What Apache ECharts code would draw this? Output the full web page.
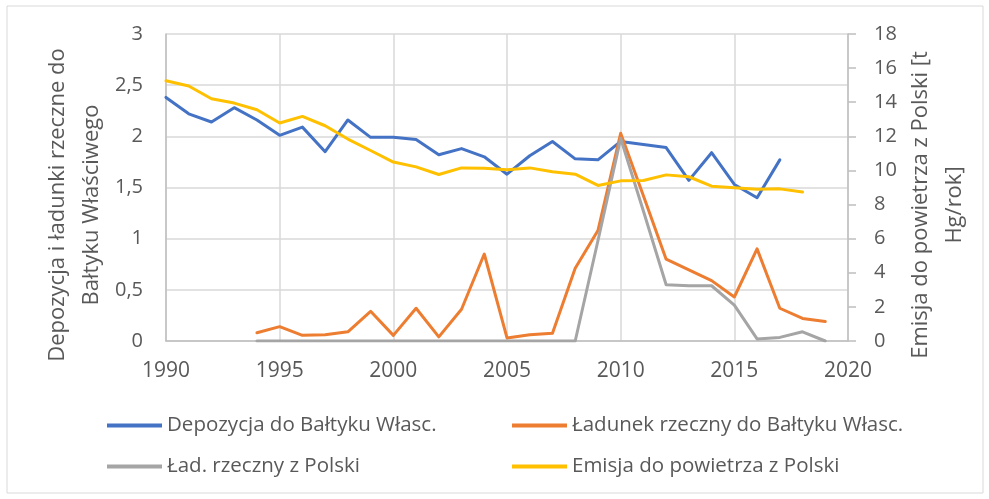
<!DOCTYPE html>
<html>
<head>
<meta charset="utf-8">
<script src="https://cdn.jsdelivr.net/npm/echarts@6/dist/echarts.min.js"></script>
<style>
  html, body { margin: 0; padding: 0; background: #fff; }
  #chart { width: 989px; height: 499px; }
</style>
</head>
<body>
<div id="chart"></div>
<script>
// years on the x axis
const years = [1990, 1991, 1992, 1993, 1994, 1995, 1996, 1997, 1998, 1999,
  2000, 2001, 2002, 2003, 2004, 2005, 2006, 2007, 2008, 2009,
  2010, 2011, 2012, 2013, 2014, 2015, 2016, 2017, 2018, 2019]

// left axis series
const depozycja = [2.38, 2.22, 2.14, 2.28, 2.16, 2.01, 2.09, 1.85, 2.16, 1.99,
  1.99, 1.97, 1.82, 1.88, 1.80, 1.63, 1.81, 1.95, 1.78, 1.77,
  1.95, 1.92, 1.89, 1.57, 1.84, 1.53, 1.40, 1.77, null, null]
const ladunekBaltyk = [null, null, null, null, 0.08, 0.14, 0.055, 0.06, 0.09, 0.29,
  0.055, 0.32, 0.04, 0.31, 0.85, 0.03, 0.06, 0.075, 0.71, 1.08,
  2.03, 1.42, 0.80, 0.695, 0.59, 0.43, 0.90, 0.32, 0.22, 0.19]
const ladunekPolska = [null, null, null, null, 0, 0, 0, 0, 0, 0,
  0, 0, 0, 0, 0, 0, 0, 0, 0, 0.98,
  1.98, 1.27, 0.55, 0.54, 0.54, 0.35, 0.02, 0.035, 0.09, 0]

// right axis series
const emisja = [15.26, 14.95, 14.2, 13.95, 13.56, 12.78, 13.17, 12.62, 11.84, 11.17,
  10.49, 10.21, 9.76, 10.15, 10.13, 10.04, 10.15, 9.92, 9.78, 9.12,
  9.39, 9.41, 9.74, 9.63, 9.08, 8.98, 8.90, 8.92, 8.73, null]

const names = ['Depozycja do Bałtyku Własc.', 'Ładunek rzeczny do Bałtyku Własc.',
  'Ład. rzeczny z Polski', 'Emisja do powietrza z Polski']
const colors = ['#4472C4', '#ED7D31', '#A5A5A5', '#FFC000']

const font = 'Open Sans'
const textColor = '#595959'

const pairs = vals => years.map((y, i) => [y, vals[i]])

const lineSeries = (idx, vals, axis) => ({
  name: names[idx],
  type: 'line',
  yAxisIndex: axis,
  data: pairs(vals),
  showSymbol: false,
  symbol: 'none',
  connectNulls: false,
  lineStyle: { width: 3, color: colors[idx], cap: 'round', join: 'round' },
  itemStyle: { color: colors[idx] },
  z: 3 + idx
})

const legendAt = (idx, left, top) => ({
  data: [names[idx]],
  left: left,
  top: top,
  padding: 0,
  icon: 'rect',
  itemWidth: 55,
  itemHeight: 4,
  textStyle: { fontFamily: font, fontSize: 20.5, color: textColor }
})

const chart = echarts.init(document.getElementById('chart'))

chart.setOption({
  animation: false,
  color: colors,
  grid: { left: 166, right: 141, top: 34, bottom: 158 },
  xAxis: {
    type: 'value',
    min: 1990,
    max: 2020,
    interval: 5,
    axisLine: { show: true, lineStyle: { color: '#bfbfbf', width: 1.5 } },
    axisTick: { show: false },
    axisLabel: {
      formatter: v => String(v),
      fontFamily: font, fontSize: 21, color: textColor, margin: 20
    },
    splitLine: { show: true, lineStyle: { color: '#d9d9d9', width: 1.5 } }
  },
  yAxis: [
    {
      type: 'value',
      min: 0, max: 3, interval: 0.5,
      axisLine: { show: true, lineStyle: { color: '#bfbfbf', width: 1.5 } },
      axisTick: { show: false },
      axisLabel: {
        formatter: v => String(v).replace('.', ','),
        fontFamily: font, fontSize: 20, color: textColor, margin: 23
      },
      splitLine: { show: true, lineStyle: { color: '#d9d9d9', width: 1.5 } }
    },
    {
      type: 'value',
      position: 'right',
      min: 0, max: 18, interval: 2,
      axisLine: { show: true, lineStyle: { color: '#bfbfbf', width: 1.5 } },
      axisTick: { show: true, length: 8, inside: false, lineStyle: { color: '#bfbfbf', width: 1.5 } },
      axisLabel: {
        fontFamily: font, fontSize: 20, color: textColor, margin: 26
      },
      splitLine: { show: false }
    }
  ],
  legend: [
    legendAt(0, 107, 415),
    legendAt(1, 512, 415),
    legendAt(2, 107, 456),
    legendAt(3, 512, 456)
  ],
  graphic: [
    {
      type: 'rect',
      shape: { x: 7, y: 6, width: 976, height: 487 },
      style: { fill: 'none', stroke: '#d9d9d9', lineWidth: 1 },
      silent: true
    },
    {
      type: 'text',
      x: 75, y: 205,
      rotation: Math.PI / 2,
      style: {
        text: 'Depozycja i ładunki rzeczne do\nBałtyku Właściwego',
        font: '22px "Open Sans"',
        fill: textColor,
        align: 'center',
        verticalAlign: 'middle',
        lineHeight: 34
      }
    },
    {
      type: 'text',
      x: 938, y: 205,
      rotation: Math.PI / 2,
      style: {
        text: 'Emisja do powietrza z Polski [t\nHg/rok]',
        font: '22px "Open Sans"',
        fill: textColor,
        align: 'center',
        verticalAlign: 'middle',
        lineHeight: 34
      }
    }
  ],
  series: [
    lineSeries(0, depozycja, 0),
    lineSeries(1, ladunekBaltyk, 0),
    lineSeries(2, ladunekPolska, 0),
    lineSeries(3, emisja, 1)
  ]
})
</script>
</body>
</html>
